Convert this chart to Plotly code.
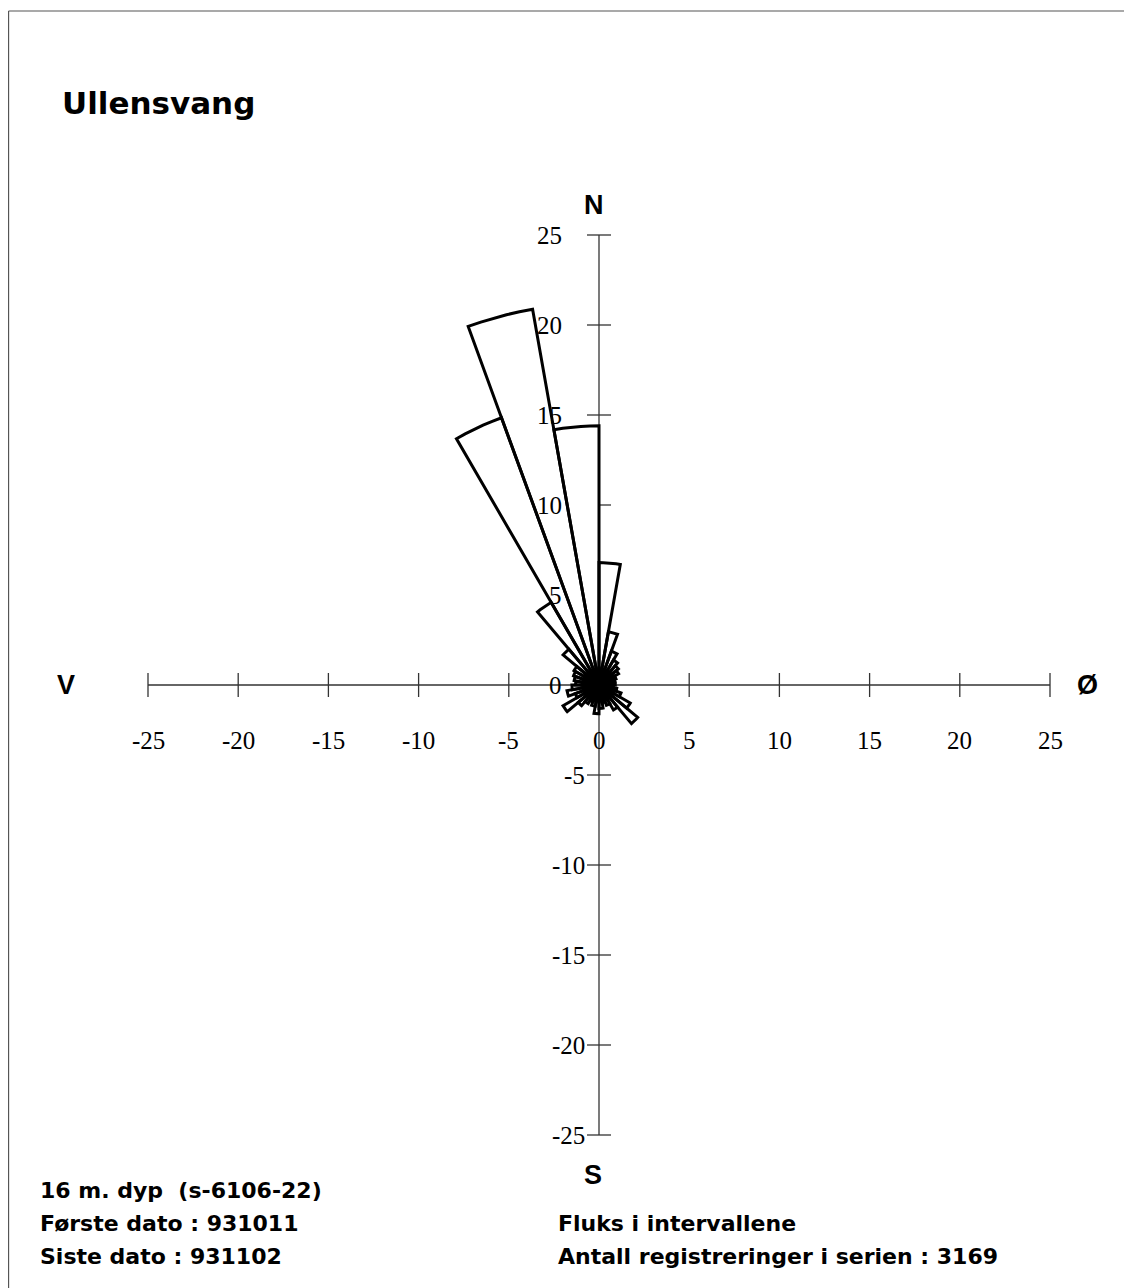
import numpy as np
import plotly.graph_objects as go

# ---- data ----
sector_start_deg = list(range(0, 360, 10))  # bearing of sector start (from north, clockwise)
flux_values = [6.8, 3.0, 2.0, 1.6, 1.4, 1.25, 1.0, 0.9, 0.9, 0.8,
               1.0, 1.3, 2.0, 2.8, 1.6, 1.2, 1.0, 1.3, 1.6, 1.2,
               1.0, 1.2, 1.5, 2.3, 1.4, 1.8, 1.5, 1.3, 1.4, 1.5,
               1.6, 2.6, 5.3, 15.8, 21.2, 14.4]
tick_values = [-25, -20, -15, -10, -5, 0, 5, 10, 15, 20, 25]
tick_labels = ["-25", "-20", "-15", "-10", "-5", "0", "5", "10", "15", "20", "25"]
compass_labels = {"N": "N", "S": "S", "E": "Ø", "W": "V"}
title_text = "Ullensvang"
info_left = ["16 m. dyp  (s-6106-22)", "Første dato : 931011", "Siste dato : 931102"]
info_right = ["Fluks i intervallene", "Antall registreringer i serien : 3169"]

OFF = 8  # page body margin
W, H = 1132 - OFF, 1288 - OFF
ox, oy = 599 - OFF, 685 - OFF
sx, sy = 18.04, 18.0
xr = [(0 - ox) / sx, (W - ox) / sx]
yr = [(oy - H) / sy, (oy - 0) / sy]

fig = go.Figure()

axis_line = dict(color="#333", width=1.3)
fig.add_trace(go.Scatter(x=[-25, 25], y=[0, 0], mode="lines", line=axis_line, hoverinfo="skip"))
fig.add_trace(go.Scatter(x=[0, 0], y=[-25, 25], mode="lines", line=axis_line, hoverinfo="skip"))
# ticks
tl = 12 / sx
tx, ty = [], []
for v in tick_values:
    tx += [v, v, None]
    ty += [-12 / sy, 12 / sy, None]
fig.add_trace(go.Scatter(x=tx, y=ty, mode="lines", line=axis_line, hoverinfo="skip"))
tx, ty = [], []
for v in tick_values:
    tx += [-tl, tl, None]
    ty += [v, v, None]
fig.add_trace(go.Scatter(x=tx, y=ty, mode="lines", line=axis_line, hoverinfo="skip"))

# wedges
wx, wy = [], []
for b0, r in zip(sector_start_deg, flux_values):
    angs = np.radians(np.linspace(b0, b0 + 10, 6))
    wx += [0] + list(r * np.sin(angs)) + [0, None]
    wy += [0] + list(r * np.cos(angs)) + [0, None]
fig.add_trace(go.Scatter(x=wx, y=wy, mode="lines", fill="toself",
                         fillcolor="white", line=dict(color="black", width=3),
                         hoverinfo="skip"))

ann = []
tick_font = dict(family="Liberation Serif", size=25, color="black")
for v, lab in zip(tick_values, tick_labels):
    ann.append(dict(x=v, y=0, text=lab, showarrow=False, font=tick_font,
                    xanchor="center", yanchor="middle", yshift=-55))
    ann.append(dict(x=0, y=v, text=lab, showarrow=False, font=tick_font,
                    xanchor="right", yanchor="middle",
                    xshift=(-35 if v >= 0 else -12)))

bold = dict(family="Liberation Sans", size=27, color="black")
ann += [
    dict(x=0, y=25, text="<b>%s</b>" % compass_labels["N"], showarrow=False, font=bold,
         xanchor="center", yanchor="middle", yshift=30, xshift=-5),
    dict(x=0, y=-25, text="<b>%s</b>" % compass_labels["S"], showarrow=False, font=bold,
         xanchor="center", yanchor="middle", yshift=-40, xshift=-6),
    dict(x=-25, y=0, text="<b>%s</b>" % compass_labels["W"], showarrow=False, font=bold,
         xanchor="center", yanchor="middle", xshift=-82),
    dict(x=25, y=0, text="<b>%s</b>" % compass_labels["E"], showarrow=False, font=bold,
         xanchor="center", yanchor="middle", xshift=37),
]

def px(xp, yp):
    return dict(xref="paper", yref="paper", x=(xp - OFF) / W, y=1 - (yp - OFF) / H)

ann.append(dict(**px(60, 103), text="<b>%s</b>" % title_text, showarrow=False,
                xanchor="left", yanchor="middle",
                font=dict(family="DejaVu Sans", size=31, color="black")))
info_font = dict(family="DejaVu Sans", size=22, color="black")
for i, t in enumerate(info_left):
    ann.append(dict(**px(38, 1190 + 33 * i), text="<b>%s</b>" % t, showarrow=False,
                    xanchor="left", yanchor="middle", font=info_font))
for i, t in enumerate(info_right):
    ann.append(dict(**px(556, 1223 + 33 * i), text="<b>%s</b>" % t, showarrow=False,
                    xanchor="left", yanchor="middle", font=info_font))

bx, by = (8 - OFF) / W, 1 - (11 - OFF) / H
shapes = [
    dict(type="line", xref="paper", yref="paper", x0=bx + 0.0005, x1=1, y0=by, y1=by,
         line=dict(color="#555", width=1.2)),
    dict(type="line", xref="paper", yref="paper", x0=bx + 0.0005, x1=bx + 0.0005, y0=0, y1=by,
         line=dict(color="#555", width=1.2)),
]

fig.update_layout(
    width=W, height=H, margin=dict(l=0, r=0, t=0, b=0),
    paper_bgcolor="white", plot_bgcolor="white", showlegend=False,
    xaxis=dict(range=xr, visible=False, fixedrange=True),
    yaxis=dict(range=yr, visible=False, fixedrange=True),
    annotations=ann, shapes=shapes,
)
fig.write_html("out.html")
